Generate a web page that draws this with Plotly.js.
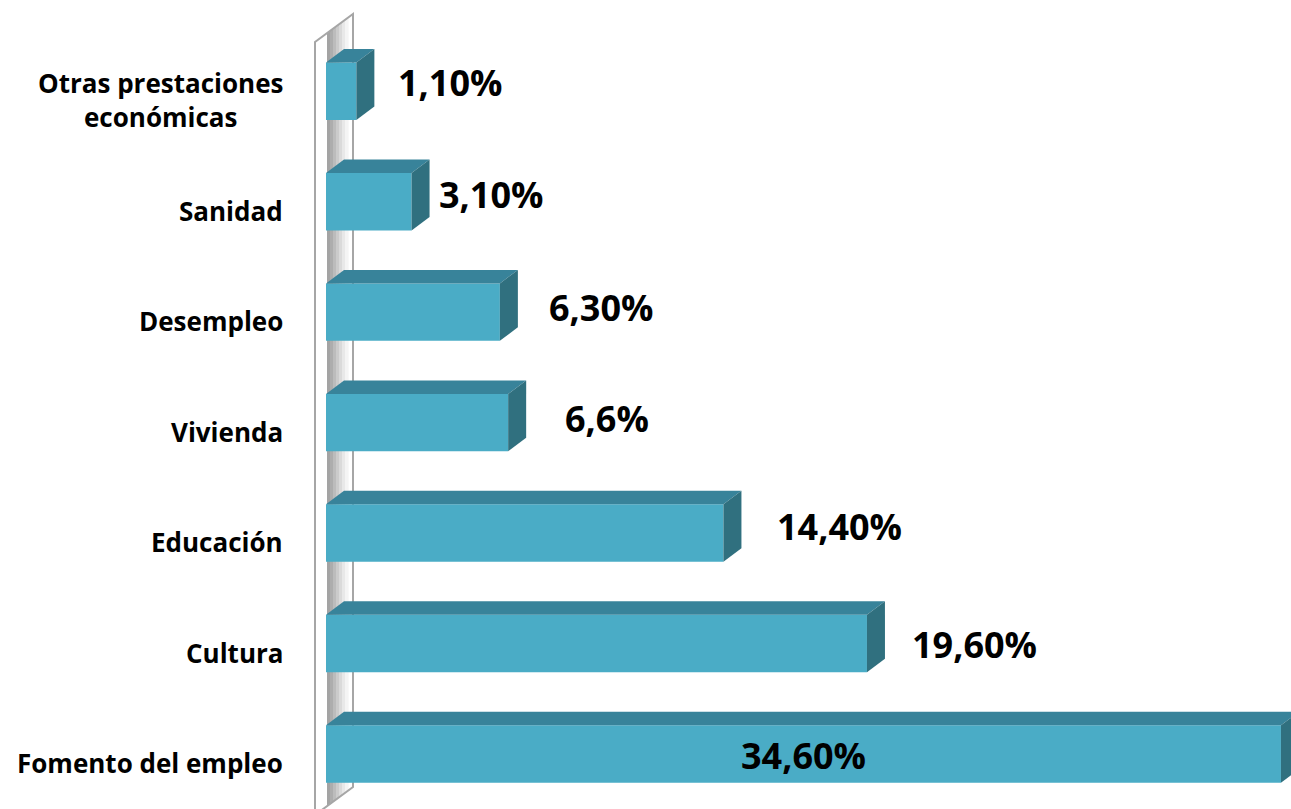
<!DOCTYPE html>
<html><head><meta charset="utf-8">
<script src="https://cdn.plot.ly/plotly-3.0.1.min.js"></script>
<style>html,body{margin:0;padding:0;background:#fff;overflow:hidden;} #chart{width:1291px;height:809px;}</style>
</head><body><div id="chart"></div>
<script>
// ---- data (bottom to top) ----
const categories = ["Fomento del empleo", "Cultura", "Educación", "Vivienda", "Desempleo", "Sanidad", "Otras prestaciones<br>económicas"];
const values = [34.6, 19.6, 14.4, 6.6, 6.3, 3.1, 1.1];
const valueLabels = ["34,60%", "19,60%", "14,40%", "6,6%", "6,30%", "3,10%", "1,10%"];

// ---- label placement (pixels) ----
const labelDx = [0, 43, 52, 55, 47, 25, 40];
const labelDy = [-1, -1, 7, 4, 5, 7.5, 8.5];

// ---- geometry / style ----
const W = 1291, H = 809;
const margin = {l: 300, r: 0, t: 0, b: 0};
const zeroPx = 26, pxPerUnit = 27.6, catPx = 110.47;
const xRange = [-zeroPx / pxPerUnit, (W - margin.l - zeroPx) / pxPerUnit];
const yRange = [-0.4977, -0.4977 + H / catPx];
const barW = 0.52;
const depthX = 18 / pxPerUnit, depthY = 13.5 / catPx;
const cFront = "#4aacc6", cTop = "#38839a", cSide = "#30707f";
const X = px => xRange[0] + (px - margin.l) / pxPerUnit;
const Y = py => yRange[1] - py / catPx;
const idx = categories.map((c, i) => i);

const shapes = [];
// wall inner gradient strip
const slope = 28 / 38;
const stripeCols = ["#a3a3a3", "#adadad", "#bcbcbc", "#cbcbcb", "#dadada", "#e8e8e8", "#f4f4f4"];
const s0 = 327, s1 = 348, sw = (s1 - s0) / stripeCols.length;
stripeCols.forEach((col, i) => {
  const a = s0 + i * sw, b = a + sw + 0.6;
  const ta = 42 - (a - 315) * slope, tb = 42 - (b - 315) * slope;
  const ba = 787 + (353 - a) * slope, bb = 787 + (353 - b) * slope;
  shapes.push({type: "path", xref: "x", yref: "y", layer: "below",
    path: `M${X(a)},${Y(ta)} L${X(b)},${Y(tb)} L${X(b)},${Y(bb)} L${X(a)},${Y(ba)} Z`,
    fillcolor: col, line: {width: 0}});
});
// wall outline
shapes.push({type: "path", xref: "x", yref: "y", layer: "below",
  path: `M${X(315)},${Y(815)} L${X(315)},${Y(42)} L${X(353)},${Y(14)} L${X(353)},${Y(787)} L${X(315)},${Y(815)}`,
  line: {color: "#a6a6a6", width: 2}});

// 3D faces of bars
values.forEach((v, i) => {
  const yt = i + barW / 2, yb = i - barW / 2;
  shapes.push({type: "path", xref: "x", yref: "y", layer: "above",
    path: `M0,${yt} L${depthX},${yt + depthY} L${v + depthX},${yt + depthY} L${v},${yt} Z`,
    fillcolor: cTop, line: {width: 0}});
  shapes.push({type: "path", xref: "x", yref: "y", layer: "above",
    path: `M${v},${yb} L${v},${yt} L${v + depthX},${yt + depthY} L${v + depthX},${yb + depthY} Z`,
    fillcolor: cSide, line: {width: 0}});
});

const annotations = [];
categories.forEach((c, i) => {
  annotations.push({xref: "paper", yref: "y", x: (285 - margin.l) / (W - margin.l - margin.r), y: i,
    xanchor: "right", yanchor: "middle", align: "center", yshift: -9, showarrow: false, text: c,
    font: {family: "Open Sans", size: 26, color: "#000", weight: 700}});
});
values.forEach((v, i) => {
  const inside = i === 0;
  annotations.push({xref: "x", yref: "y", x: inside ? v / 2 : v, y: i,
    xanchor: inside ? "center" : "left", yanchor: "middle", xshift: labelDx[i], yshift: labelDy[i],
    showarrow: false, text: valueLabels[i],
    font: {family: "Open Sans", size: 36, color: "#000", weight: 700}});
});

const trace = {type: "bar", orientation: "h", x: values, y: idx, width: barW,
  marker: {color: cFront, line: {width: 0}}, hoverinfo: "skip"};

Plotly.newPlot("chart", [trace], {
  width: W, height: H, margin: margin, showlegend: false,
  paper_bgcolor: "#fff", plot_bgcolor: "#fff",
  xaxis: {range: xRange, showgrid: false, zeroline: false, showticklabels: false, showline: false, ticks: "", fixedrange: true},
  yaxis: {range: yRange, showgrid: false, zeroline: false, showticklabels: false, showline: false, ticks: "", fixedrange: true},
  shapes: shapes, annotations: annotations
}, {staticPlot: true, displayModeBar: false});
</script></body></html>
